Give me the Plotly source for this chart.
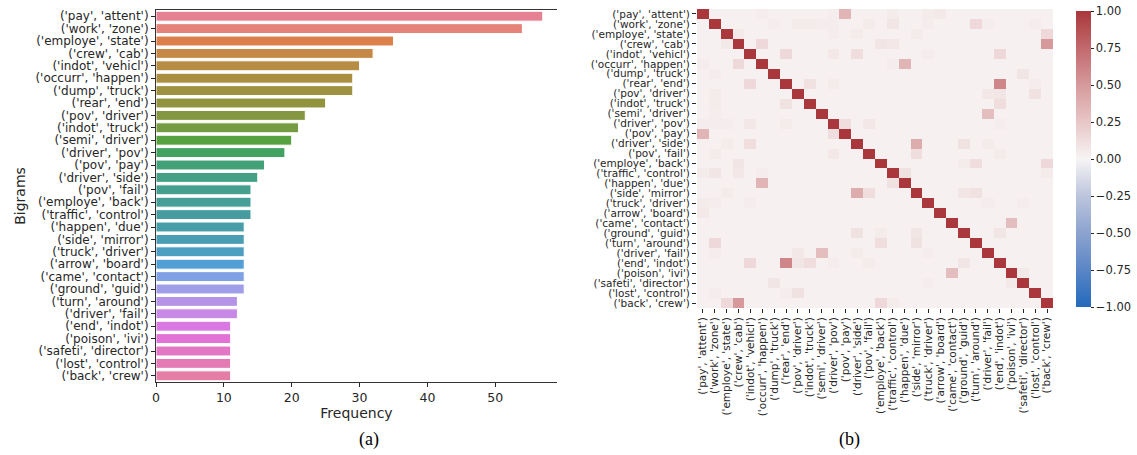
import math
import colorsys
import numpy as np
import plotly.graph_objects as go

# ---------------- data ----------------
bigrams = ["('pay', 'attent')", "('work', 'zone')", "('employe', 'state')", "('crew', 'cab')",
           "('indot', 'vehicl')", "('occurr', 'happen')", "('dump', 'truck')", "('rear', 'end')",
           "('pov', 'driver')", "('indot', 'truck')", "('semi', 'driver')", "('driver', 'pov')",
           "('pov', 'pay')", "('driver', 'side')", "('pov', 'fail')", "('employe', 'back')",
           "('traffic', 'control')", "('happen', 'due')", "('side', 'mirror')", "('truck', 'driver')",
           "('arrow', 'board')", "('came', 'contact')", "('ground', 'guid')", "('turn', 'around')",
           "('driver', 'fail')", "('end', 'indot')", "('poison', 'ivi')", "('safeti', 'director')",
           "('lost', 'control')", "('back', 'crew')"]

frequency = [57, 54, 35, 32, 30, 29, 29, 25, 22, 21,
             20, 19, 16, 15, 14, 14, 14, 13, 13, 13,
             13, 13, 13, 12, 12, 11, 11, 11, 11, 11]

# correlation matrix, in hundredths (symmetric)
corr_pct = [
    [100, 2, 2, 2, 2, 4, 2, 2, 2, 2,   2, 4, 35, 2, 2, 2, 5, 2, 2, 5,   6, 2, 2, 2, 2, 2, 2, 2, 2, 2],
    [2, 100, 2, 2, 2, 2, 4, 2, 5, 5,   4, 4, 2, 2, 5, 2, 8, 2, 2, 4,   2, 2, 2, 15, 4, 2, 2, 2, 4, 2],
    [2, 2, 100, 6, 2, 2, 2, 2, 2, 2,   2, 4, 2, 5, 2, 2, 2, 2, 5, 2,   2, 2, 2, 2, 2, 2, 2, 2, 2, 15],
    [2, 2, 6, 100, 2, 15, 2, 2, 2, 2,  2, 2, 2, 2, 2, 8, 7, 2, 2, 2,   2, 2, 2, 2, 2, 2, 2, 2, 2, 50],
    [2, 2, 2, 2, 100, 2, 2, 15, 2, 2,  2, 7, 2, 12, 2, 2, 2, 2, 2, 4,  2, 2, 2, 2, 2, 15, 2, 2, 2, 2],
    [4, 2, 2, 15, 2, 100, 2, 2, 2, 2,  2, 2, 2, 2, 2, 2, 4, 35, 2, 2,  2, 2, 2, 2, 2, 2, 2, 2, 2, 2],
    [2, 4, 2, 2, 2, 2, 100, 2, 2, 2,   2, 2, 2, 2, 2, 2, 2, 2, 2, 2,   2, 2, 2, 2, 2, 2, 2, 8, 2, 2],
    [2, 2, 2, 2, 15, 2, 2, 100, 2, 10, 2, 5, 2, 2, 2, 2, 2, 2, 2, 2,   2, 2, 2, 2, 2, 60, 2, 2, 4, 2],
    [2, 5, 2, 2, 2, 2, 2, 2, 100, 2,   2, 2, 2, 2, 2, 2, 2, 2, 2, 2,   2, 2, 2, 2, 7, 8, 2, 2, 10, 2],
    [2, 5, 2, 2, 2, 2, 2, 10, 2, 100,  2, 2, 2, 2, 2, 2, 2, 2, 2, 2,   2, 2, 2, 2, 2, 12, 2, 2, 2, 2],
    [2, 4, 2, 2, 2, 2, 2, 2, 2, 2,     100, 2, 2, 2, 2, 2, 2, 2, 2, 2, 2, 2, 2, 2, 30, 2, 2, 2, 2, 2],
    [4, 4, 4, 2, 7, 2, 2, 5, 2, 2,     2, 100, 12, 2, 7, 2, 2, 2, 2, 2, 2, 2, 2, 2, 2, 4, 2, 2, 2, 2],
    [35, 2, 2, 2, 2, 2, 2, 2, 2, 2,    2, 12, 100, 2, 2, 2, 2, 2, 2, 2, 2, 2, 2, 2, 2, 2, 2, 2, 2, 2],
    [2, 2, 5, 2, 12, 2, 2, 2, 2, 2,    2, 2, 2, 100, 2, 2, 2, 2, 40, 2, 2, 2, 10, 2, 5, 2, 2, 2, 2, 2],
    [2, 5, 2, 2, 2, 2, 2, 2, 2, 2,     2, 7, 2, 2, 100, 2, 2, 2, 12, 2, 2, 2, 2, 2, 2, 5, 2, 2, 2, 2],
    [2, 2, 2, 8, 2, 2, 2, 2, 2, 2,     2, 2, 2, 2, 2, 100, 2, 2, 2, 2, 2, 2, 5, 12, 2, 2, 2, 2, 2, 15],
    [5, 8, 2, 7, 2, 4, 2, 2, 2, 2,     2, 2, 2, 2, 2, 2, 100, 10, 2, 2, 2, 2, 2, 2, 2, 2, 2, 2, 2, 5],
    [2, 2, 2, 2, 2, 35, 2, 2, 2, 2,    2, 2, 2, 2, 2, 2, 10, 100, 2, 2, 2, 2, 2, 2, 2, 2, 2, 2, 2, 2],
    [2, 2, 5, 2, 2, 2, 2, 2, 2, 2,     2, 2, 2, 40, 12, 2, 2, 2, 100, 2, 2, 2, 8, 10, 2, 2, 2, 2, 2, 2],
    [5, 4, 2, 2, 4, 2, 2, 2, 2, 2,     2, 2, 2, 2, 2, 2, 2, 2, 2, 100, 2, 2, 2, 2, 4, 2, 2, 4, 2, 2],
    [6, 2, 2, 2, 2, 2, 2, 2, 2, 2,     2, 2, 2, 2, 2, 2, 2, 2, 2, 2,   100, 2, 2, 2, 2, 2, 2, 2, 2, 2],
    [2, 2, 2, 2, 2, 2, 2, 2, 2, 2,     2, 2, 2, 2, 2, 2, 2, 2, 2, 2,   2, 100, 2, 2, 2, 2, 30, 2, 2, 2],
    [2, 2, 2, 2, 2, 2, 2, 2, 2, 2,     2, 2, 2, 10, 2, 5, 2, 2, 8, 2,  2, 2, 100, 2, 2, 8, 2, 2, 2, 2],
    [2, 15, 2, 2, 2, 2, 2, 2, 2, 2,    2, 2, 2, 2, 2, 12, 2, 2, 10, 2, 2, 2, 2, 100, 2, 2, 2, 2, 2, 2],
    [2, 4, 2, 2, 2, 2, 2, 2, 7, 2,     30, 2, 2, 5, 2, 2, 2, 2, 2, 4,  2, 2, 2, 2, 100, 2, 2, 2, 2, 2],
    [2, 2, 2, 2, 15, 2, 2, 60, 8, 12,  2, 4, 2, 2, 5, 2, 2, 2, 2, 2,   2, 2, 8, 2, 2, 100, 2, 2, 2, 2],
    [2, 2, 2, 2, 2, 2, 2, 2, 2, 2,     2, 2, 2, 2, 2, 2, 2, 2, 2, 2,   2, 30, 2, 2, 2, 2, 100, 6, 2, 2],
    [2, 2, 2, 2, 2, 2, 8, 2, 2, 2,     2, 2, 2, 2, 2, 2, 2, 2, 2, 4,   2, 2, 2, 2, 2, 2, 6, 100, 2, 2],
    [2, 4, 2, 2, 2, 2, 2, 4, 10, 2,    2, 2, 2, 2, 2, 2, 2, 2, 2, 2,   2, 2, 2, 2, 2, 2, 2, 2, 100, 2],
    [2, 2, 15, 50, 2, 2, 2, 2, 2, 2,   2, 2, 2, 2, 2, 15, 5, 2, 2, 2,  2, 2, 2, 2, 2, 2, 2, 2, 2, 100],
]
corr = [[v / 100.0 for v in row] for row in corr_pct]

colorbar_ticks = [-1.0, -0.75, -0.5, -0.25, 0.0, 0.25, 0.5, 0.75, 1.0]
freq_ticks = [0, 10, 20, 30, 40, 50]

# ---------------- seaborn-like husl palette (style) ----------------
_m = [[3.2406, -1.5372, -0.4986], [-0.9689, 1.8758, 0.0415], [0.0557, -0.2040, 1.0570]]
_refU, _refV = 0.19784, 0.46834
_kappa, _eps = 903.3, 0.008856


def _max_chroma(L, H):
    hrad = math.radians(H)
    sinH, cosH = math.sin(hrad), math.cos(hrad)
    sub1 = (L + 16) ** 3 / 1560896.0
    sub2 = sub1 if sub1 > _eps else L / _kappa
    result = float("inf")
    for m1, m2, m3 in _m:
        top = (0.99915 * m1 + 1.05122 * m2 + 1.14460 * m3) * sub2
        rbottom = 0.86330 * m3 - 0.17266 * m2
        lbottom = 0.12949 * m3 - 0.38848 * m1
        bottom = (rbottom * sinH + lbottom * cosH) * sub2
        for t in (0.0, 1.0):
            C = L * (top - 1.05122 * t) / (bottom + 0.17266 * sinH * t)
            if 0.0 < C < result:
                result = C
    return result


def _husl_to_rgb(H, S, L):
    C = _max_chroma(L, H) / 100.0 * S
    hr = math.radians(H)
    U, V = math.cos(hr) * C, math.sin(hr) * C
    t = (L + 16.0) / 116.0
    varY = t ** 3 if t ** 3 > _eps else (116.0 * t - 16.0) / _kappa
    varU = U / (13.0 * L) + _refU
    varV = V / (13.0 * L) + _refV
    Y = varY
    X = 0.0 - (9.0 * Y * varU) / ((varU - 4.0) * varV - varU * varV)
    Z = (9.0 * Y - 15.0 * varV * Y - varV * X) / (3.0 * varV)
    out = []
    for row in _m:
        c = row[0] * X + row[1] * Y + row[2] * Z
        c = 12.92 * c if c <= 0.0031308 else 1.055 * c ** (1 / 2.4) - 0.055
        out.append(min(max(c, 0.0), 1.0))
    return out


def husl_palette(n, h=0.01, s=0.9, l=0.65):
    hues = (np.linspace(0, 1, n + 1)[:-1] + h) % 1 * 359
    cols = []
    for hi in hues:
        r, g, b = _husl_to_rgb(hi, s * 99, l * 99)
        hh, ll, ss = colorsys.rgb_to_hls(r, g, b)
        r, g, b = colorsys.hls_to_rgb(hh, ll, ss * 0.75)
        cols.append("rgb(%d,%d,%d)" % (round(r * 255), round(g * 255), round(b * 255)))
    return cols


bar_colors = husl_palette(len(bigrams))

vlag = [[0.0, "#2369bd"], [0.125, "#5a86c6"], [0.25, "#8ca3cf"], [0.375, "#bcc5dd"],
        [0.5, "#f7f4f4"], [0.625, "#e8c6c7"], [0.75, "#d69a9c"], [0.875, "#c2696d"],
        [1.0, "#a9373b"]]

W, H = 1137, 455
ink = "#262626"
base_font = dict(family="DejaVu Sans", color=ink)

fig = go.Figure()
fig.add_trace(go.Bar(
    x=frequency, y=bigrams, orientation="h", width=0.8,
    marker=dict(color=bar_colors, line=dict(color="white", width=1)),
    xaxis="x", yaxis="y", showlegend=False))

idx = list(range(len(bigrams)))
fig.add_trace(go.Heatmap(
    z=corr, x=idx, y=idx, colorscale=vlag, zmin=-1, zmax=1,
    xaxis="x2", yaxis="y2",
    colorbar=dict(x=1076 / W, xanchor="left", xpad=0, ypad=0, y=1 - 159 / H, yanchor="middle",
                  len=296 / H, lenmode="fraction", thickness=15, outlinewidth=0,
                  tickvals=colorbar_ticks, tickformat=".2f", ticks="outside",
                  ticklen=3, tickcolor=ink, tickfont=dict(size=11.5, **base_font))))

fig.update_layout(
    width=W, height=H, margin=dict(l=0, r=0, t=0, b=0, autoexpand=False),
    paper_bgcolor="white", plot_bgcolor="white", font=base_font, showlegend=False,
    xaxis=dict(domain=[156 / W, 557 / W], anchor="y", range=[0, 59.1], automargin=False,
               tickvals=freq_ticks, ticks="outside", ticklen=4, tickcolor=ink,
               showline=True, mirror=True, linecolor="#333", linewidth=1,
               showgrid=False, zeroline=False, tickfont=dict(size=12.5),
               title=dict(text="Frequency", font=dict(size=14), standoff=2)),
    yaxis=dict(domain=[1 - 382 / H, 1 - 10 / H], anchor="x", autorange="reversed",
               automargin=False,
               type="category", tickmode="array", tickvals=bigrams, ticktext=bigrams,
               ticks="outside", ticklen=4, tickcolor=ink,
               showline=True, linecolor="#333", linewidth=1, showgrid=False,
               tickfont=dict(size=12),
               title=dict(text="Bigrams", font=dict(size=14), standoff=6)),
    xaxis2=dict(domain=[697 / W, 1053 / W], anchor="y2", range=[-0.5, 29.5],
                automargin=False,
                tickvals=idx, ticktext=bigrams, tickangle=-90, ticks="outside",
                ticklen=4, tickcolor=ink, showgrid=False, zeroline=False,
                showline=False, tickfont=dict(size=10.5)),
    yaxis2=dict(domain=[1 - 308 / H, 1 - 9 / H], anchor="x2", range=[29.5, -0.5],
                automargin=False,
                tickvals=idx, ticktext=bigrams, ticks="outside", ticklen=4,
                tickcolor=ink, showgrid=False, zeroline=False, showline=False,
                tickfont=dict(size=10.5)),
    annotations=[
        dict(text="(a)", x=357 / W, y=1 - 439 / H, xref="paper", yref="paper",
             yanchor="middle", showarrow=False,
             font=dict(family="Liberation Serif", size=18, color="black")),
        dict(text="(b)", x=862 / W, y=1 - 439 / H, xref="paper", yref="paper",
             yanchor="middle", showarrow=False,
             font=dict(family="Liberation Serif", size=18, color="black")),
    ],
)

fig.write_html("out.html", config={"displayModeBar": False},
               post_script="document.body.style.margin='0';"
                           "document.body.style.overflow='hidden';")
